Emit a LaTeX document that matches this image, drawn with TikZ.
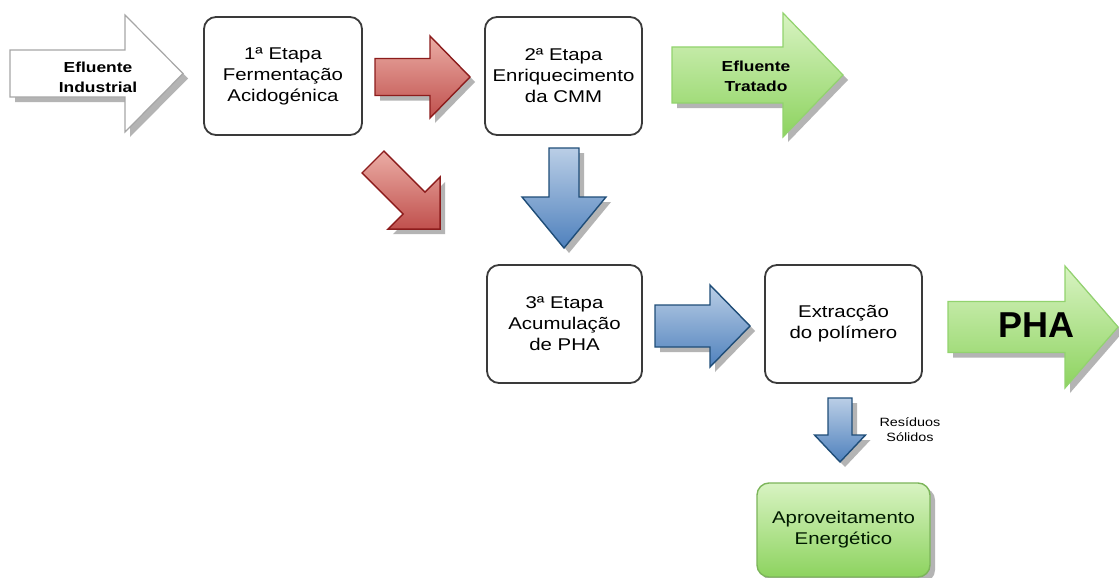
\documentclass[tikz,border=0pt]{standalone}
\usepackage{fontspec}
\setmainfont{Liberation Sans}[FakeStretch=1.2]
\newfontfamily\phafont{Liberation Sans}[FakeStretch=1.0]
\usetikzlibrary{shadings}
\definecolor{redlight}{HTML}{EBADA5}
\definecolor{reddark}{HTML}{C0504D}
\definecolor{redline}{HTML}{8C1C1C}
\definecolor{bluelight}{HTML}{BACEE6}
\definecolor{bluedark}{HTML}{4F81BD}
\definecolor{blueline}{HTML}{1F4D78}
\definecolor{greenlight}{HTML}{D8F3C2}
\definecolor{greendark}{HTML}{8DD35F}
\definecolor{greenline}{HTML}{92D36E}
\definecolor{gboxline}{HTML}{7CB55A}
\definecolor{shadowgray}{HTML}{B4B4B4}
\definecolor{boxline}{HTML}{3A3A3A}
\tikzset{
  arrowshadow/.style={fill=shadowgray},
  whitearrow/.style={fill=white,draw=black!35,line width=1.2pt},
  redarrow/.style={top color=redlight,bottom color=reddark,draw=redline,line width=1.4pt},
  bluearrow/.style={top color=bluelight,bottom color=bluedark,draw=blueline,line width=1.4pt},
  greenarrow/.style={top color=greenlight,bottom color=greendark,draw=greenline,line width=1.2pt},
  stagebox/.style={draw=boxline,line width=1.8pt,fill=white,rounded corners=12pt,
    minimum height=118pt,align=center,font=\fontsize{17}{21}\selectfont,inner sep=0pt},
  greenbox/.style={draw=gboxline,line width=1.4pt,top color=greenlight,bottom color=greendark,
    rounded corners=12pt,minimum width=173pt,minimum height=94pt,align=center,
    font=\fontsize{17}{21}\selectfont,text=black!90!green,inner sep=0pt},
  boldlabel/.style={align=center,font=\bfseries\fontsize{14.5}{20}\selectfont,inner sep=0pt},
}
% #1 style, #2 x, #3 y (tail centre), #4 angle, #5 length, #6 shaft half width, #7 head half width, #8 head length
\newcommand{\blockarrow}[8]{%
  \begin{scope}[shift={(#2+5,#3+5)},rotate=#4]
    \fill[arrowshadow] (0,-#6) -- (#5-#8,-#6) -- (#5-#8,-#7) -- (#5,0) -- (#5-#8,#7) -- (#5-#8,#6) -- (0,#6) -- cycle;
  \end{scope}
  \begin{scope}[shift={(#2,#3)},rotate=#4]
    \path[#1,line join=miter] (0,-#6) -- (#5-#8,-#6) -- (#5-#8,-#7) -- (#5,0) -- (#5-#8,#7) -- (#5-#8,#6) -- (0,#6) -- cycle;
  \end{scope}}
\begin{document}
\begin{tikzpicture}[x=1pt,y=-1pt]
\useasboundingbox[fill=white] (0,0) rectangle (1119,578);
% block arrows
\blockarrow{whitearrow}{10}{73.5}{0}{173}{23.5}{58.5}{58}
\blockarrow{redarrow}{375}{77}{0}{95}{18.5}{41}{40}
\blockarrow{redarrow}{373}{162}{-45}{95}{15.5}{37}{37}
\blockarrow{greenarrow}{672}{75}{0}{171}{28}{62}{60}
\blockarrow{bluearrow}{564}{148}{-90}{100}{15}{42}{51}
\blockarrow{bluearrow}{655}{326}{0}{95}{21}{41}{40}
\blockarrow{greenarrow}{948}{327}{0}{170}{25.5}{61}{53}
\blockarrow{bluearrow}{840}{398}{-90}{64}{12}{25.5}{27}
% stage boxes
\node[stagebox,minimum width=158pt] (s1) at (283,76) {1ª Etapa\\Fermentação\\Acidogénica};
\node[stagebox,minimum width=157pt] (s2) at (563.5,76) {2ª Etapa\\Enriquecimento\\da CMM};
\node[stagebox,minimum width=155pt] (s3) at (564.5,324) {3ª Etapa\\Acumulação\\de PHA};
\node[stagebox,minimum width=157pt] (s4) at (843.5,324) {Extracção\\do polímero};
\fill[shadowgray,rounded corners=12pt] (762,488) rectangle (935,582);
\node[greenbox] (ae) at (843.5,530) {Aproveitamento\\Energético};
% arrow labels
\node[boldlabel] (ei) at (98,77) {Efluente\\Industrial};
\node[boldlabel] (et) at (756,76) {Efluente\\Tratado};
\node[inner sep=0pt,font=\phafont\bfseries\fontsize{36}{40}\selectfont] (pha) at (1036,325) {PHA};
\node[inner sep=0pt,align=center,font=\fontsize{12}{15}\selectfont] (rs) at (910,430) {Resíduos\\Sólidos};
\end{tikzpicture}
\end{document}
